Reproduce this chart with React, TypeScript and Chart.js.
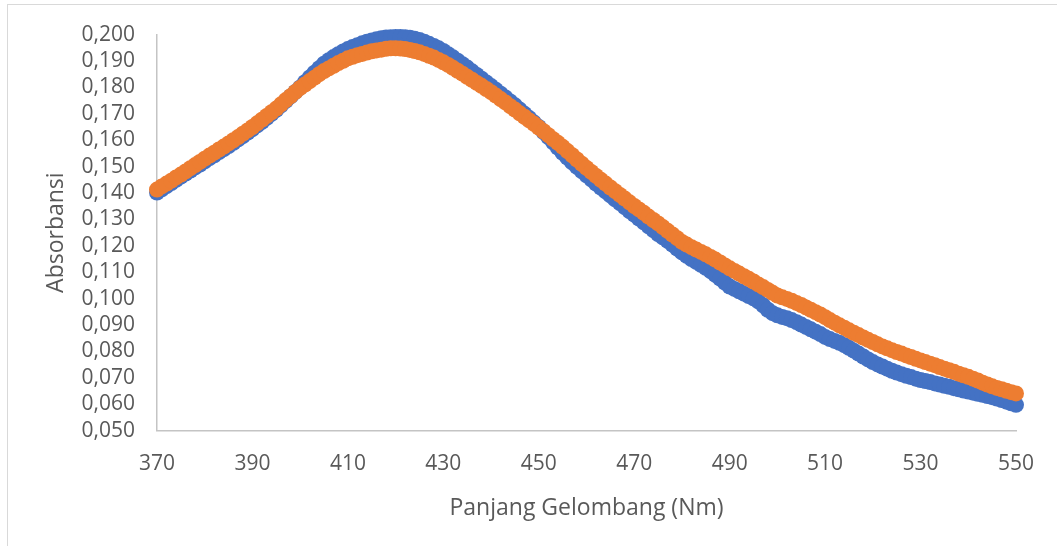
import React, { useEffect, useRef } from "react";
import { Chart, registerables } from "chart.js";

Chart.register(...registerables);

const wavelengthStart = 370;
const xTickValues = [370, 390, 410, 430, 450, 470, 490, 510, 530, 550];
const yTickValues = [
  0.05, 0.06, 0.07, 0.08, 0.09, 0.1, 0.11, 0.12, 0.13, 0.14, 0.15, 0.16,
  0.17, 0.18, 0.19, 0.2,
];

const xTitle = "Panjang Gelombang (Nm)";
const yTitle = "Absorbansi";

// Series 1 (blue), 370..550 nm, 1 nm step
const seriesBlue = [
  0.1402, 0.1414, 0.1426, 0.1438, 0.1450, 0.1462,
  0.1474, 0.1485, 0.1497, 0.1508, 0.1520,
  0.1532, 0.1543, 0.1555, 0.1566, 0.1578,
  0.1590, 0.1603, 0.1616, 0.1629, 0.1642,
  0.1656, 0.1670, 0.1685, 0.1700, 0.1715,
  0.1732, 0.1749, 0.1766, 0.1783, 0.1800,
  0.1820, 0.1838, 0.1856, 0.1873, 0.1890,
  0.1903, 0.1915, 0.1926, 0.1936, 0.1945,
  0.1953, 0.1960, 0.1967, 0.1973, 0.1978,
  0.1982, 0.1986, 0.1989, 0.1990, 0.1991,
  0.1991, 0.1990, 0.1988, 0.1984, 0.1980,
  0.1973, 0.1965, 0.1957, 0.1948, 0.1938,
  0.1926, 0.1914, 0.1901, 0.1888, 0.1875,
  0.1861, 0.1847, 0.1833, 0.1819, 0.1805,
  0.1791, 0.1776, 0.1762, 0.1747, 0.1732,
  0.1716, 0.1700, 0.1684, 0.1667, 0.1650,
  0.1631, 0.1612, 0.1592, 0.1572, 0.1552,
  0.1534, 0.1516, 0.1499, 0.1483, 0.1467,
  0.1452, 0.1436, 0.1421, 0.1406, 0.1391,
  0.1376, 0.1362, 0.1347, 0.1332, 0.1318,
  0.1303, 0.1289, 0.1274, 0.1260, 0.1245,
  0.1232, 0.1219, 0.1205, 0.1190, 0.1175,
  0.1162, 0.1150, 0.1139, 0.1128, 0.1117,
  0.1104, 0.1090, 0.1076, 0.1061, 0.1046,
  0.1037, 0.1028, 0.1019, 0.1010, 0.1001,
  0.0990, 0.0975, 0.0958, 0.0945, 0.0937,
  0.0931, 0.0926, 0.0919, 0.0911, 0.0902,
  0.0893, 0.0884, 0.0875, 0.0866, 0.0855,
  0.0847, 0.0840, 0.0833, 0.0824, 0.0814,
  0.0803, 0.0792, 0.0781, 0.0770, 0.0760,
  0.0751, 0.0743, 0.0735, 0.0727, 0.0720,
  0.0714, 0.0708, 0.0703, 0.0697, 0.0692,
  0.0688, 0.0684, 0.0679, 0.0675, 0.0670,
  0.0666, 0.0661, 0.0657, 0.0652, 0.0648,
  0.0644, 0.0640, 0.0636, 0.0631, 0.0627,
  0.0622, 0.0616, 0.0610, 0.0604, 0.0598,
];

// Series 2 (orange), 370..550 nm, 1 nm step
const seriesOrange = [
  0.1413, 0.1425, 0.1436, 0.1447, 0.1459, 0.1470,
  0.1482, 0.1494, 0.1506, 0.1518, 0.1530,
  0.1542, 0.1553, 0.1565, 0.1576, 0.1588,
  0.1600, 0.1612, 0.1625, 0.1637, 0.1650,
  0.1664, 0.1678, 0.1692, 0.1706, 0.1720,
  0.1736, 0.1752, 0.1767, 0.1783, 0.1798,
  0.1811, 0.1824, 0.1837, 0.1850, 0.1862,
  0.1872, 0.1882, 0.1892, 0.1901, 0.1910,
  0.1916, 0.1922, 0.1927, 0.1932, 0.1937,
  0.1940, 0.1943, 0.1946, 0.1948, 0.1948,
  0.1947, 0.1945, 0.1942, 0.1938, 0.1933,
  0.1927, 0.1920, 0.1913, 0.1904, 0.1895,
  0.1885, 0.1874, 0.1863, 0.1852, 0.1840,
  0.1829, 0.1817, 0.1806, 0.1794, 0.1782,
  0.1769, 0.1756, 0.1743, 0.1729, 0.1716,
  0.1702, 0.1689, 0.1675, 0.1662, 0.1648,
  0.1634, 0.1619, 0.1604, 0.1590, 0.1575,
  0.1559, 0.1543, 0.1527, 0.1511, 0.1495,
  0.1480, 0.1465, 0.1450, 0.1436, 0.1421,
  0.1407, 0.1393, 0.1379, 0.1365, 0.1351,
  0.1338, 0.1325, 0.1311, 0.1298, 0.1285,
  0.1271, 0.1257, 0.1243, 0.1229, 0.1215,
  0.1205, 0.1195, 0.1186, 0.1177, 0.1168,
  0.1158, 0.1148, 0.1137, 0.1126, 0.1115,
  0.1105, 0.1095, 0.1085, 0.1075, 0.1065,
  0.1054, 0.1044, 0.1033, 0.1022, 0.1012,
  0.1005, 0.0999, 0.0992, 0.0984, 0.0976,
  0.0967, 0.0958, 0.0949, 0.0940, 0.0930,
  0.0919, 0.0909, 0.0899, 0.0890, 0.0880,
  0.0871, 0.0862, 0.0853, 0.0844, 0.0836,
  0.0827, 0.0819, 0.0812, 0.0805, 0.0798,
  0.0792, 0.0785, 0.0779, 0.0772, 0.0766,
  0.0760, 0.0754, 0.0748, 0.0741, 0.0735,
  0.0729, 0.0723, 0.0716, 0.0710, 0.0704,
  0.0697, 0.0690, 0.0682, 0.0675, 0.0668,
  0.0662, 0.0657, 0.0651, 0.0646, 0.0641,
];

const toPoints = (vals: number[]) =>
  vals.map((v, i) => ({ x: wavelengthStart + i, y: v }));

const FONT = "'Open Sans', 'DejaVu Sans', sans-serif";
const TEXT = "#595959";
const AXIS = "#C4C4C4";

export default function App() {
  const ref = useRef<HTMLCanvasElement | null>(null);

  useEffect(() => {
    document.body.style.margin = "0";
    const canvas = ref.current;
    if (!canvas) return;
    const chart = new Chart(canvas, {
      type: "scatter",
      data: {
        datasets: [
          {
            label: "Series1",
            data: toPoints(seriesBlue),
            backgroundColor: "#4472C4",
            borderColor: "#4472C4",
            pointRadius: 8,
            pointBorderWidth: 0,
            pointHoverRadius: 8,
            clip: false,
            order: 2,
          },
          {
            label: "Series2",
            data: toPoints(seriesOrange),
            backgroundColor: "#ED7D31",
            borderColor: "#ED7D31",
            pointRadius: 8,
            pointBorderWidth: 0,
            pointHoverRadius: 8,
            clip: false,
            order: 1,
          },
        ],
      },
      options: {
        animation: false,
        responsive: false,
        events: [],
        layout: { padding: { left: 43, top: 33, right: 41, bottom: 24 } },
        plugins: {
          legend: { display: false },
          tooltip: { enabled: false },
        },
        scales: {
          x: {
            type: "linear",
            min: xTickValues[0],
            max: xTickValues[xTickValues.length - 1],
            afterFit: (s: any) => {
              s.height = 91.3;
            },
            afterBuildTicks: (s: any) => {
              s.ticks = xTickValues.map((v) => ({ value: v }));
            },
            ticks: {
              autoSkip: false,
              color: TEXT,
              font: { family: FONT, size: 21 },
              padding: 21,
              maxRotation: 0,
            },
            grid: { display: false, drawTicks: false },
            border: { display: true, color: AXIS, width: 1.5 },
            title: {
              display: true,
              text: xTitle,
              color: TEXT,
              font: { family: FONT, size: 23 },
              padding: { top: 12, bottom: 0 },
            },
          },
          y: {
            type: "linear",
            min: yTickValues[0],
            max: yTickValues[yTickValues.length - 1],
            afterFit: (s: any) => {
              s.width = 114;
            },
            afterBuildTicks: (s: any) => {
              s.ticks = yTickValues.map((v) => ({ value: v }));
            },
            ticks: {
              autoSkip: false,
              color: TEXT,
              font: { family: FONT, size: 21 },
              padding: 22,
              callback: (v: any) => Number(v).toFixed(3).replace(".", ","),
            },
            grid: { display: false, drawTicks: false },
            border: { display: true, color: AXIS, width: 1.5 },
            title: {
              display: true,
              text: yTitle,
              color: TEXT,
              font: { family: FONT, size: 23 },
              padding: { top: 0, bottom: 0 },
            },
          },
        },
      },
    });
    return () => chart.destroy();
  }, []);

  return (
    <div style={{ position: "relative", width: 1057, height: 546, background: "#fff" }}>
      <canvas ref={ref} width={1057} height={546} style={{ display: "block" }} />
      <div
        style={{
          position: "absolute",
          left: 7,
          top: 4,
          right: 0,
          height: 0,
          borderTop: "1.5px solid #D9D9D9",
        }}
      />
      <div
        style={{
          position: "absolute",
          left: 7,
          top: 4,
          bottom: 0,
          width: 0,
          borderLeft: "1.5px solid #D9D9D9",
        }}
      />
    </div>
  );
}
